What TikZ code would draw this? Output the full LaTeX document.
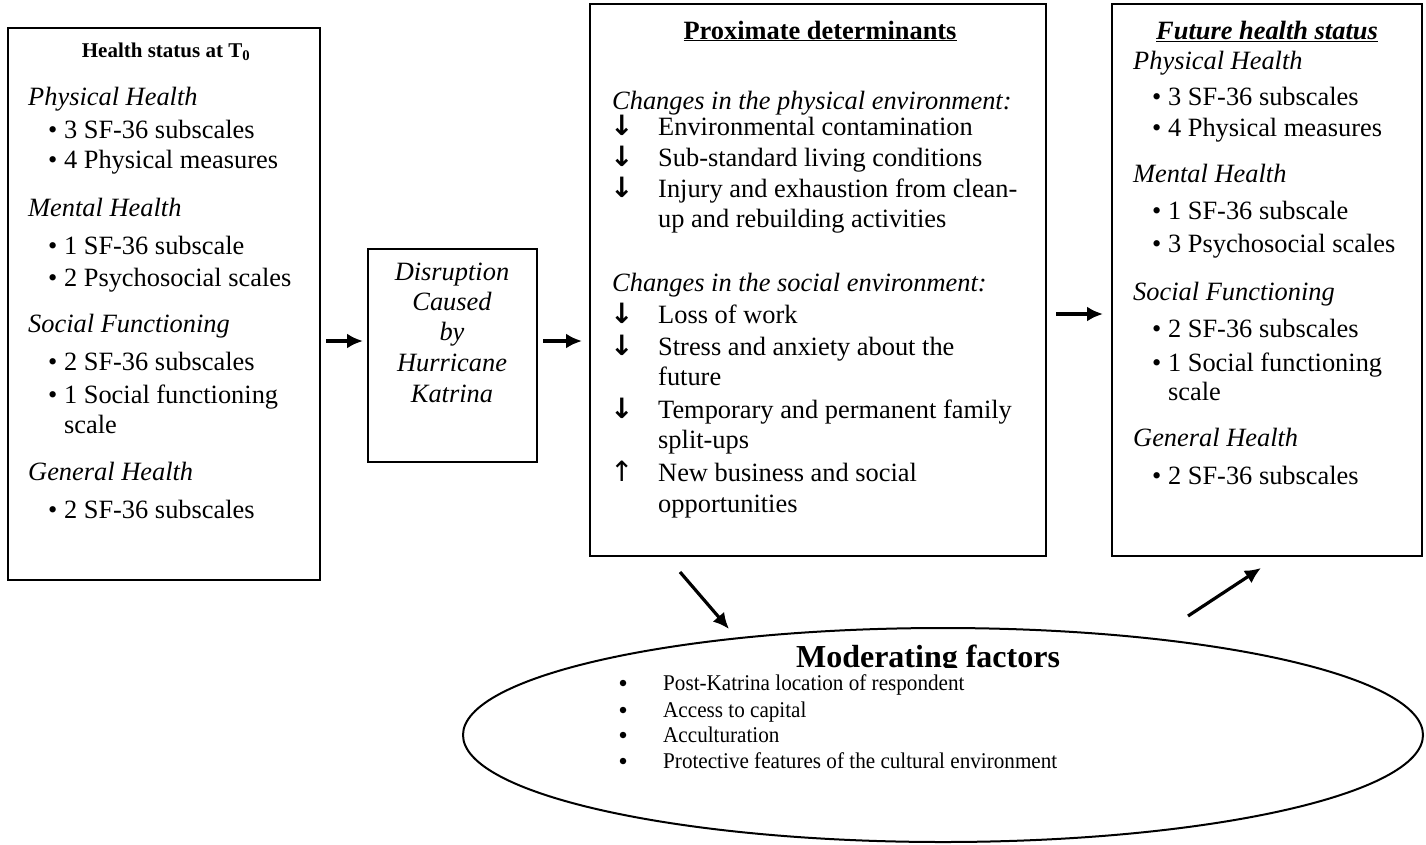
\documentclass[tikz,border=0pt]{standalone}
\usepackage{fontspec}
\setmainfont{Liberation Serif}
\newfontfamily\ellfont[FakeStretch=0.94]{Liberation Serif}
\newfontfamily\arrfont{DejaVu Sans}
\usetikzlibrary{arrows.meta,shapes.geometric}
\tikzset{
 box/.style={draw, line width=2pt, anchor=north west, inner sep=0pt, outer sep=0pt},
 txt/.style={anchor=base west, inner sep=0pt, font=\fontsize{26.4}{30}\selectfont},
 itxt/.style={anchor=base west, inner sep=0pt, font=\fontsize{26.4}{30}\selectfont\itshape},
 ctxt/.style={anchor=base, inner sep=0pt, font=\fontsize{26.4}{30}\selectfont\itshape},
 head/.style={anchor=base, inner sep=0pt, font=\fontsize{26.4}{30}\selectfont\bfseries},
 dn/.style={anchor=base west, inner sep=0pt, font=\arrfont\fontsize{28}{30}\selectfont\bfseries},
 up/.style={anchor=base west, inner sep=0pt, font=\arrfont\fontsize{28}{30}\selectfont},
 etxt/.style={anchor=base west, inner sep=0pt, font=\ellfont\fontsize{22.5}{26}\selectfont},
 ebul/.style={circle, fill, inner sep=0pt, minimum size=6.5pt},
 conn/.style={line width=3.2pt, -{Latex[length=16pt,width=15pt]}},
}
\begin{document}
\begin{tikzpicture}[x=1pt,y=-1pt]
\useasboundingbox (0,0) rectangle (1426,844);
% boxes
\node[box, minimum width=312pt, minimum height=552pt] (hs) at (8,28) {};
\node[box, minimum width=169pt, minimum height=213pt] (dis) at (368,249) {};
\node[box, minimum width=456pt, minimum height=552pt] (pd) at (590,4) {};
\node[box, minimum width=310pt, minimum height=552pt] (fh) at (1112,4) {};
\node[draw, ellipse, line width=2pt, minimum width=960pt, minimum height=214pt, inner sep=0pt] (mod) at (943,735) {};
% left box text
\node[anchor=base, inner sep=0pt, font=\fontsize{21}{24}\selectfont\bfseries] (hsT) at (166,57) {Health status at T\textsubscript{0}};
\node[itxt] (hs1) at (28,105) {Physical Health};
\node[txt] (hs2) at (48,138) {•~3 SF-36 subscales};
\node[txt] (hs3) at (48,168) {•~4 Physical measures};
\node[itxt] (hs4) at (28,216) {Mental Health};
\node[txt] (hs5) at (48,254) {•~1 SF-36 subscale};
\node[txt] (hs6) at (48,286) {•~2 Psychosocial scales};
\node[itxt] (hs7) at (28,332) {Social Functioning};
\node[txt] (hs8) at (48,370) {•~2 SF-36 subscales};
\node[txt] (hs9) at (48,403) {•~1 Social functioning};
\node[txt] (hs10) at (48,433) {\hphantom{•~}scale};
\node[itxt] (hs11) at (28,480) {General Health};
\node[txt] (hs12) at (48,518) {•~2 SF-36 subscales};
% disruption text
\node[ctxt] (d1) at (452,280) {Disruption};
\node[ctxt] (d2) at (452,310) {Caused};
\node[ctxt] (d3) at (452,340) {by};
\node[ctxt] (d4) at (452,371) {Hurricane};
\node[ctxt] (d5) at (452,402) {Katrina};
% proximate determinants
\node[head] (pdT) at (820,39) {\underline{Proximate determinants}};
\node[itxt] (p1) at (612,109) {Changes in the physical environment:};
\node[dn] (p2a) at (610,135) {↓};
\node[txt] (p2) at (658,135) {Environmental contamination};
\node[dn] (p3a) at (610,166) {↓};
\node[txt] (p3) at (658,166) {Sub-standard living conditions};
\node[dn] (p4a) at (610,197) {↓};
\node[txt] (p4) at (658,197) {Injury and exhaustion from clean-};
\node[txt] (p5) at (658,227) {up and rebuilding activities};
\node[itxt] (p6) at (612,291) {Changes in the social environment:};
\node[dn] (p7a) at (610,323) {↓};
\node[txt] (p7) at (658,323) {Loss of work};
\node[dn] (p8a) at (610,355) {↓};
\node[txt] (p8) at (658,355) {Stress and anxiety about the};
\node[txt] (p9) at (658,385) {future};
\node[dn] (p10a) at (610,418) {↓};
\node[txt] (p10) at (658,418) {Temporary and permanent family};
\node[txt] (p11) at (658,448) {split-ups};
\node[up] (p12a) at (610,481) {↑};
\node[txt] (p12) at (658,481) {New business and social};
\node[txt] (p13) at (658,512) {opportunities};
% future health status
\node[head, font=\fontsize{26.4}{30}\selectfont\bfseries\itshape] (fhT) at (1267,39) {\underline{Future health status}};
\node[itxt] (f1) at (1133,69) {Physical Health};
\node[txt] (f2) at (1152,105) {•~3 SF-36 subscales};
\node[txt] (f3) at (1152,136) {•~4 Physical measures};
\node[itxt] (f4) at (1133,182) {Mental Health};
\node[txt] (f5) at (1152,219) {•~1 SF-36 subscale};
\node[txt] (f6) at (1152,252) {•~3 Psychosocial scales};
\node[itxt] (f7) at (1133,300) {Social Functioning};
\node[txt] (f8) at (1152,337) {•~2 SF-36 subscales};
\node[txt] (f9) at (1152,371) {•~1 Social functioning};
\node[txt] (f10) at (1152,400) {\hphantom{•~}scale};
\node[itxt] (f11) at (1133,446) {General Health};
\node[txt] (f12) at (1152,484) {•~2 SF-36 subscales};
% moderating factors
\begin{scope}
\clip (700,600) rectangle (1150,667.5);
\node[anchor=base, inner sep=0pt, font=\fontsize{32}{36}\selectfont\bfseries] (modT) at (928,667) {Moderating factors};
\end{scope}
\node[ebul] (m1b) at (623,683) {};
\node[etxt] (m1) at (663,690) {Post-Katrina location of respondent};
\node[ebul] (m2b) at (623,710) {};
\node[etxt] (m2) at (663,717) {Access to capital};
\node[ebul] (m3b) at (623,735) {};
\node[etxt] (m3) at (663,742) {Acculturation};
\node[ebul] (m4b) at (623,761) {};
\node[etxt] (m4) at (663,768) {Protective features of the cultural environment};
% connectors
\coordinate (a1s) at (326,341); \coordinate (a1e) at (363,341);
\coordinate (a2s) at (543,341); \coordinate (a2e) at (582,341);
\coordinate (a3s) at (1056,314); \coordinate (a3e) at (1103,314);
\coordinate (a4s) at (680,572); \coordinate (a4e) at (729,629);
\coordinate (a5s) at (1188,616); \coordinate (a5e) at (1261,568);
\draw[conn] (a1s) -- (a1e);
\draw[conn] (a2s) -- (a2e);
\draw[conn] (a3s) -- (a3e);
\draw[conn] (a4s) -- (a4e);
\draw[conn] (a5s) -- (a5e);
\end{tikzpicture}
\end{document}
